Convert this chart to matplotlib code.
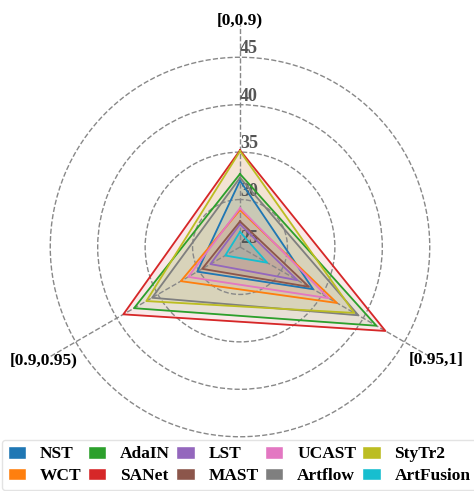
import numpy as np
import matplotlib
matplotlib.use("Agg")
import matplotlib.pyplot as plt
from matplotlib.patches import Patch

categories = ['[0,0.9)', '[0.9,0.95)', '[0.95,1]']
methods = ['NST', 'WCT', 'AdaIN', 'SANet', 'LST', 'MAST', 'UCAST', 'Artflow', 'StyTr2', 'ArtFusion']
NST = [32.0, 30.2, 33.9]
WCT = [28.9, 32.2, 36.8]
AdaIN = [32.7, 37.9, 41.6]
SANet = [35.2, 39.2, 42.7]
LST = [27.4, 28.6, 32.0]
MAST = [27.7, 29.6, 33.4]
UCAST = [29.1, 31.3, 35.8]
Artflow = [32.3, 35.7, 39.4]
StyTr2 = [35.1, 36.4, 38.9]
ArtFusion = [26.6, 26.8, 28.3]
series = [NST, WCT, AdaIN, SANet, LST, MAST, UCAST, Artflow, StyTr2, ArtFusion]
colors = ['#1f77b4', '#ff7f0e', '#2ca02c', '#d62728', '#9467bd',
          '#8c564b', '#e377c2', '#7f7f7f', '#bcbd22', '#17becf']
r_ticks = [25, 30, 35, 40, 45]

plt.rcParams['font.family'] = ['Liberation Serif', 'DejaVu Serif']
plt.rcParams['font.weight'] = 'bold'

fig = plt.figure(figsize=(4.74, 4.91), dpi=100)
ax = fig.add_axes([18/474, 22/491, 444/474, 444/491], polar=True)
ax.set_theta_offset(np.pi/2)

angles = np.linspace(0, 2*np.pi, len(categories), endpoint=False)
closed = np.concatenate([angles, angles[:1]])
for vals, c in zip(series, colors):
    v = list(vals) + [vals[0]]
    ax.plot(closed, v, color=c, lw=1.3)
    ax.fill(closed, v, color=c, alpha=0.1)

ax.set_ylim(25, 48.4)
ax.set_yticks(r_ticks)
ax.set_yticklabels([str(t) for t in r_ticks], fontsize=13, fontweight='bold', color='#555555')
ax.set_rlabel_position(0)
ax.tick_params(axis='y', pad=7.5)
ax.set_xticks(angles)
ax.set_xticklabels(categories, fontsize=12.5, fontweight='bold')
ax.tick_params(axis='x', pad=-7.5)
ax.grid(True, linestyle='--', color='#888888', lw=1.0)
ax.spines['polar'].set_visible(False)

handles = [Patch(facecolor=c, edgecolor='white', label=m) for m, c in zip(methods, colors)]
leg = fig.legend(handles=handles, ncol=5, loc='lower left',
                 bbox_to_anchor=(2/474, 1/491),
                 prop={'weight': 'bold', 'size': 12.5},
                 handlelength=1.05, handleheight=0.75, handletextpad=0.8,
                 columnspacing=0.36, borderpad=0.35, labelspacing=0.3,
                 borderaxespad=0.0,
                 frameon=True, fancybox=True, edgecolor='#dddddd')
leg.get_frame().set_linewidth(1.0)

fig.savefig('out.png', dpi=100)
